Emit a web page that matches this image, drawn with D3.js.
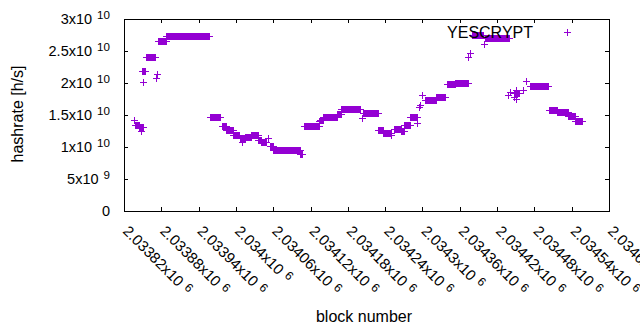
<!DOCTYPE html>
<html>
<head>
<meta charset="utf-8">
<script src="https://cdnjs.cloudflare.com/ajax/libs/d3/7.8.5/d3.min.js"></script>
<style>
  body { margin: 0; background: #fff; }
  text { font-family: "Liberation Sans", Arial, sans-serif; fill: #000; }
</style>
</head>
<body>
<div id="chart-container"></div>
<script>
// 連續區段 (起始區塊, 結束區塊, hashrate)
var runStart = [2033838, 2033844, 2033849, 2033855, 2033875, 2033888, 2033959, 2033977, 2033984, 2033996,
  2034006, 2034014, 2034025, 2034036, 2034041, 2034055, 2034060, 2034103, 2034110, 2034135,
  2034140, 2034163, 2034169, 2034205, 2034229, 2034237, 2034254, 2034265, 2034271, 2034280,
  2034304, 2034322, 2034339, 2034352, 2034380, 2034400, 2034447, 2034473, 2034504, 2034516,
  2034534, 2034546];
var runEnd = [2033844, 2033850, 2033854, 2033870, 2033888, 2033957, 2033974, 2033984, 2033996, 2034005,
  2034014, 2034025, 2034036, 2034041, 2034049, 2034060, 2034103, 2034107, 2034134, 2034140,
  2034163, 2034169, 2034200, 2034229, 2034237, 2034250, 2034265, 2034271, 2034280, 2034291,
  2034322, 2034337, 2034352, 2034373, 2034397, 2034439, 2034455, 2034502, 2034516, 2034534,
  2034545, 2034557];
var runValue = [1.35e10, 1.32e10, 2.19e10, 2.40e10, 2.664e10, 2.73e10, 1.464e10, 1.323e10, 1.273e10, 1.18e10,
  1.136e10, 1.164e10, 1.183e10, 1.114e10, 1.078e10, 1.019e10, 9.58e9, 8.9e9, 1.323e10, 1.427e10,
  1.461e10, 1.516e10, 1.589e10, 1.527e10, 1.258e10, 1.219e10, 1.286e10, 1.245e10, 1.344e10, 1.461e10,
  1.73e10, 1.778e10, 1.981e10, 1.997e10, 2.745e10, 2.698e10, 1.84e10, 1.948e10, 1.583e10, 1.544e10,
  1.48e10, 1.40e10];

// 單獨的點
var singleBlock = [2033836, 2033847, 2033850, 2033871, 2033873, 2034009, 2034052, 2034134, 2034202, 2034249,
  2034292, 2034295, 2034296, 2034300, 2034373, 2034376, 2034399, 2034438, 2034441, 2034447,
  2034450, 2034451, 2034456, 2034462, 2034467];
var singleValue = [1.42e10, 1.255e10, 2.02e10, 2.08e10, 2.14e10, 1.083e10, 1.136e10, 1.41e10, 1.448e10, 1.19e10,
  1.38e10, 1.62e10, 1.656e10, 1.81e10, 2.40e10, 2.47e10, 2.605e10, 1.81e10, 1.86e10, 1.78e10,
  1.755e10, 1.89e10, 1.85e10, 1.89e10, 2.036e10];

// 刻度
var xTickValues = [2033820, 2033880, 2033940, 2034000, 2034060, 2034120, 2034180, 2034240, 2034300, 2034360,
  2034420, 2034480, 2034540, 2034600];
var xTickLabels = ["2.03382", "2.03388", "2.03394", "2.034", "2.03406", "2.03412", "2.03418", "2.03424",
  "2.0343", "2.03436", "2.03442", "2.03448", "2.03454", "2.0346"];
var yTickValues = [0, 5e9, 1e10, 1.5e10, 2e10, 2.5e10, 3e10];
var yTickMantissa = ["0", "5", "1", "1.5", "2", "2.5", "3"];
var yTickExponent = ["", "9", "10", "10", "10", "10", "10"];

var seriesName = "YESCRYPT";
var pointColor = "#9400d3";

// 展開資料
var points = [];
runStart.forEach(function (s, i) {
  for (var b = s; b <= runEnd[i]; b++) {
    points.push({ block: b, value: runValue[i] });
  }
});
singleBlock.forEach(function (b, i) {
  points.push({ block: b, value: singleValue[i] });
});

var W = 640, H = 330;
var margin = { top: 19, right: 31, bottom: 119, left: 124 };
var width = W - margin.left - margin.right;
var height = H - margin.top - margin.bottom;

var svg = d3.select("#chart-container").append("svg")
  .attr("width", W)
  .attr("height", H);

var x = d3.scaleLinear().domain([2033820, 2034600]).range([margin.left, margin.left + width]);
var y = d3.scaleLinear().domain([0, 3e10]).range([margin.top + height, margin.top]);

var plusPath = "M-3.5,0H3.5M0,-3.5V3.5";

// 資料點
svg.append("g").selectAll("path")
  .data(points)
  .enter().append("path")
  .attr("d", plusPath)
  .attr("transform", d => "translate(" + (Math.round(x(d.block)) + 0.5) + "," + (Math.round(y(d.value)) + 0.5) + ")")
  .attr("stroke", pointColor)
  .attr("stroke-width", 1)
  .attr("fill", "none");

// 刻度線 (內側, 四邊)
var tickLen = 4;
svg.append("g")
  .attr("transform", "translate(0," + (margin.top + height) + ")")
  .call(d3.axisBottom(x).tickValues(xTickValues).tickSizeInner(-tickLen).tickSizeOuter(0).tickFormat(""))
  .call(g => g.select(".domain").remove());
svg.append("g")
  .attr("transform", "translate(0," + margin.top + ")")
  .call(d3.axisTop(x).tickValues(xTickValues).tickSizeInner(-tickLen).tickSizeOuter(0).tickFormat(""))
  .call(g => g.select(".domain").remove());
svg.append("g")
  .attr("transform", "translate(" + margin.left + ",0)")
  .call(d3.axisLeft(y).tickValues(yTickValues).tickSizeInner(-tickLen).tickSizeOuter(0).tickFormat(""))
  .call(g => g.select(".domain").remove());
svg.append("g")
  .attr("transform", "translate(" + (margin.left + width) + ",0)")
  .call(d3.axisRight(y).tickValues(yTickValues).tickSizeInner(-tickLen).tickSizeOuter(0).tickFormat(""))
  .call(g => g.select(".domain").remove());
svg.selectAll(".tick line").attr("stroke", "#000").attr("shape-rendering", "crispEdges");

// 外框
svg.append("rect")
  .attr("x", margin.left + 0.5)
  .attr("y", margin.top + 0.5)
  .attr("width", width)
  .attr("height", height)
  .attr("fill", "none")
  .attr("stroke", "#000")
  .attr("shape-rendering", "crispEdges");

// Y 軸標籤
var yLabel = svg.append("g").selectAll("text")
  .data(yTickValues)
  .enter().append("text")
  .attr("x", margin.left - 14)
  .attr("y", d => y(d) + 5)
  .attr("text-anchor", "end")
  .style("font-size", "14.5px");
yLabel.append("tspan").text((d, i) => yTickMantissa[i] === "0" ? "0" : yTickMantissa[i] + "x10");
yLabel.filter(d => yTickExponent[yTickValues.indexOf(d)] !== "")
  .append("tspan")
  .attr("dx", 5)
  .attr("dy", -5)
  .style("font-size", "11.6px")
  .text(d => yTickExponent[yTickValues.indexOf(d)]);

// X 軸標籤 (旋轉 45 度)
var xLabel = svg.append("g").selectAll("text")
  .data(xTickValues)
  .enter().append("text")
  .attr("transform", d => "translate(" + (x(d) - 2) + ",232) rotate(45)")
  .attr("text-anchor", "start")
  .style("font-size", "15px");
xLabel.append("tspan").text((d, i) => xTickLabels[i] + "x10");
xLabel.append("tspan")
  .attr("dx", 5)
  .attr("dy", -4)
  .style("font-size", "12px")
  .text("6");

// 軸標題
svg.append("text")
  .attr("x", 364)
  .attr("y", 322)
  .attr("text-anchor", "middle")
  .style("font-size", "16px")
  .text("block number");
svg.append("text")
  .attr("transform", "translate(23,114) rotate(-90)")
  .attr("text-anchor", "middle")
  .style("font-size", "16px")
  .text("hashrate [h/s]");

// 圖例
svg.append("text")
  .attr("x", 533)
  .attr("y", 38)
  .attr("text-anchor", "end")
  .style("font-size", "16px")
  .text(seriesName);
svg.append("path")
  .attr("d", plusPath)
  .attr("transform", "translate(567.5,32.5)")
  .attr("stroke", pointColor)
  .attr("fill", "none");
</script>
</body>
</html>
